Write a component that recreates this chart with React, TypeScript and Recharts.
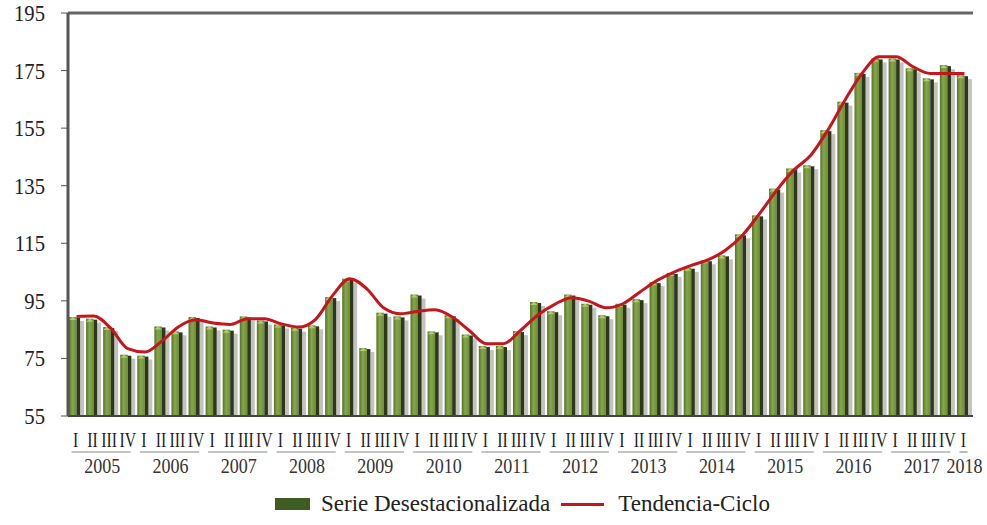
import React from 'react';
import { ComposedChart, Bar, Line, XAxis, YAxis, ReferenceLine } from 'recharts';

const years = [2005, 2006, 2007, 2008, 2009, 2010, 2011, 2012, 2013, 2014, 2015, 2016, 2017, 2018];
const quarterNames = ['I', 'II', 'III', 'IV'];
const quartersPerYear = [4, 4, 4, 4, 4, 4, 4, 4, 4, 4, 4, 4, 4, 1];

const serieDesestacionalizada = [
  89.4, 88.8, 85.9, 76.3,
  76.0, 86.1, 84.4, 89.4,
  86.1, 85.0, 89.6, 88.2,
  86.8, 85.7, 86.5, 96.3,
  102.7, 78.6, 90.9, 89.6,
  97.2, 84.4, 90.0, 83.3,
  79.3, 79.3, 84.5, 94.6,
  91.4, 97.2, 94.0, 90.0,
  94.0, 95.6, 101.5, 104.7,
  106.5, 109.1, 110.8, 118.1,
  124.7, 134.0, 141.0, 142.1,
  154.3, 164.2, 174.2, 179.2,
  179.2, 175.8, 172.3, 176.9,
  173.4,
];

const tendenciaCiclo = [
  89.6, 89.7, 85.5, 78.4,
  77.2, 81.0, 86.1, 88.4,
  87.3, 86.8, 88.8, 88.8,
  87.0, 85.9, 88.6, 96.9,
  102.7, 99.2, 92.5, 90.5,
  91.4, 91.9, 89.4, 84.7,
  80.1, 80.1, 84.7, 90.0,
  93.8, 96.1, 94.9, 92.6,
  94.0, 98.1, 102.1, 105.0,
  107.3, 109.3, 112.6, 117.8,
  125.3, 133.4, 140.4, 145.6,
  154.3, 164.7, 174.0, 179.8,
  179.8, 176.3, 174.0, 174.0,
  174.0,
];

const yTicks = [55, 75, 95, 115, 135, 155, 175, 195];

const categories: { year: number; q: string; count: number }[] = [];
years.forEach((yr, i) => {
  for (let k = 0; k < quartersPerYear[i]; k++) {
    categories.push({ year: yr, q: quarterNames[k], count: quartersPerYear[i] });
  }
});

const data = categories.map((c, i) => ({
  key: `${c.year}-${c.q}`,
  serie: serieDesestacionalizada[i],
  tendencia: tendenciaCiclo[i],
}));

const WIDTH = 987;
const HEIGHT = 525;
const LEFT = 68;
const RIGHT = 14;
const SLOT = (WIDTH - LEFT - RIGHT) / data.length;
const FONT = '"Liberation Serif", "Times New Roman", serif';

const qShift: Record<string, number> = { I: -1, II: -1, III: -1.5, IV: 0 };

const Bar3D = (props: any) => {
  const { x, y, width, height } = props;
  if (!height || height <= 0) return null;
  const face = width * 0.5;
  const side = width * 0.24;
  const shadow = width - face - side;
  return (
    <g>
      <rect x={x + face + side} y={y + 4} width={shadow} height={height - 4} fill="#c2c2c0" />
      <rect x={x} y={y} width={face} height={height} fill="url(#faceGrad)" />
      <rect x={x + face} y={y + 1} width={side} height={height - 1} fill="#2c371b" />
      <polygon
        points={`${x},${y + 3} ${x + face / 2},${y} ${x + face},${y + 3}`}
        fill="#b3cb6e"
      />
    </g>
  );
};

// the scanned labels are tall and narrow, so squeeze them horizontally
const ValueTick = (props: any) => {
  const { x, y, payload } = props;
  return (
    <text
      transform={`translate(${x},${y}) scale(0.86,1)`}
      textAnchor="end"
      dominantBaseline="central"
      fontFamily={FONT}
      fontSize={24}
      fill="#222"
    >
      {payload.value}
    </text>
  );
};

const QuarterTick = (props: any) => {
  const { x, y, index } = props;
  const c = categories[index];
  if (!c) return null;
  const showYear = c.q === 'I';
  const span = (c.count - 1) * SLOT;
  return (
    <g>
      <text
        transform={`translate(${x + qShift[c.q]},${y + 31}) scale(0.79,1)`}
        textAnchor="middle"
        fontFamily={FONT}
        fontSize={20}
        fill="#222"
      >
        {c.q}
      </text>
      {showYear && (
        <>
          <line x1={x - 5} x2={x + span + 3} y1={y + 36} y2={y + 36} stroke="#8a8a8a" strokeWidth={1.2} />
          <text
            transform={`translate(${x + span / 2},${y + 57}) scale(0.9,1)`}
            textAnchor="middle"
            fontFamily={FONT}
            fontSize={20}
            fill="#333"
          >
            {c.year}
          </text>
        </>
      )}
    </g>
  );
};

export default function App() {
  return (
    <div style={{ position: 'absolute', left: 0, top: 0, width: WIDTH, height: HEIGHT, background: '#fff' }}>
      <ComposedChart
        width={WIDTH}
        height={HEIGHT}
        data={data}
        margin={{ top: 13, right: RIGHT, left: 0, bottom: 0 }}
        barCategoryGap={1}
      >
        <defs>
          <linearGradient id="faceGrad" x1="0" y1="0" x2="1" y2="0">
            <stop offset="0%" stopColor="#55722a" />
            <stop offset="45%" stopColor="#86a84a" />
            <stop offset="100%" stopColor="#6c8d34" />
          </linearGradient>
        </defs>
        <XAxis
          dataKey="key"
          interval={0}
          height={109}
          tickSize={0}
          tickMargin={0}
          tickLine={false}
          axisLine={{ stroke: '#444', strokeWidth: 2 }}
          tick={<QuarterTick />}
        />
        <YAxis
          yAxisId="left"
          domain={[55, 195]}
          ticks={yTicks}
          width={LEFT}
          tickSize={7}
          tickMargin={16}
          tickLine={{ stroke: '#555' }}
          axisLine={{ stroke: '#555', strokeWidth: 3 }}
          tick={<ValueTick />}
          allowDataOverflow
        />
        <YAxis
          yAxisId="right"
          orientation="right"
          domain={[55, 195]}
          width={0}
          tick={false}
          tickLine={false}
          axisLine={{ stroke: '#9a9a9a', strokeWidth: 2 }}
        />
        <ReferenceLine yAxisId="left" y={195} stroke="#666" strokeWidth={3} />
        <Bar
          yAxisId="left"
          dataKey="serie"
          name="Serie Desestacionalizada"
          fill="#3f5c22"
          shape={<Bar3D />}
          isAnimationActive={false}
        />
        <Line
          yAxisId="left"
          type="monotone"
          dataKey="tendencia"
          name="Tendencia-Ciclo"
          stroke="#c4161c"
          strokeWidth={3}
          dot={false}
          activeDot={false}
          isAnimationActive={false}
        />
      </ComposedChart>
      <div
        style={{
          position: 'absolute',
          top: 491,
          left: 275,
          display: 'flex',
          alignItems: 'center',
          fontFamily: FONT,
          fontSize: 23,
          color: '#222',
          whiteSpace: 'nowrap',
        }}
      >
        <span style={{ display: 'inline-block', width: 35, height: 12, background: '#3f5c22', marginRight: 11 }} />
        <span>Serie Desestacionalizada</span>
        <span style={{ display: 'inline-block', width: 43, height: 3, background: '#c4161c', margin: '0 14px 0 11px' }} />
        <span>Tendencia-Ciclo</span>
      </div>
    </div>
  );
}
